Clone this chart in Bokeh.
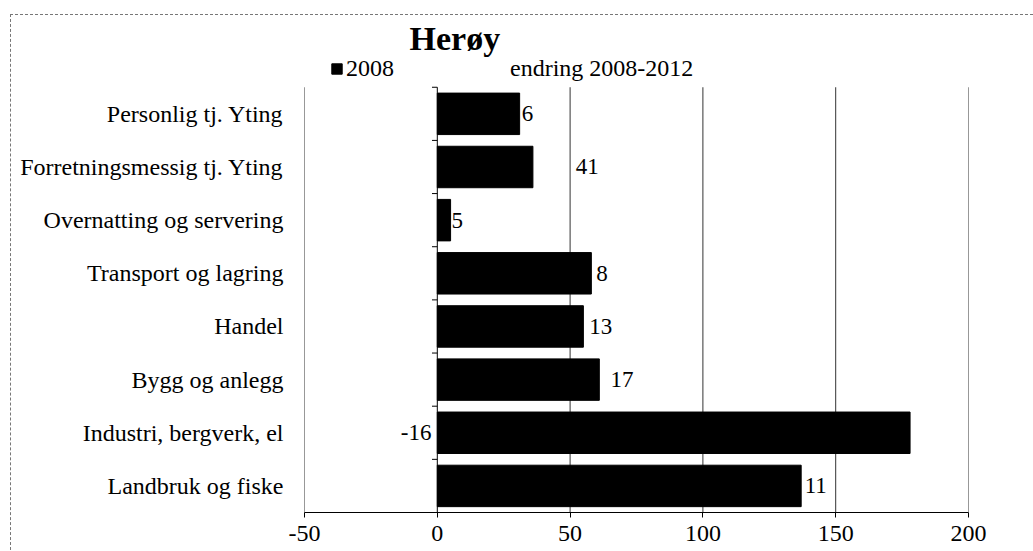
from bokeh.plotting import figure
from bokeh.models import (Range1d, FixedTicker, Label, Legend, LegendItem,
                          ColumnDataSource)
from bokeh.embed import file_html
from bokeh.resources import INLINE
from bokeh.core.properties import value

# ---- data (top to bottom as shown) ----
categories = ["Personlig tj. Yting", "Forretningsmessig tj. Yting",
              "Overnatting og servering", "Transport og lagring", "Handel",
              "Bygg og anlegg", "Industri, bergverk, el", "Landbruk og fiske"]
v2008 = [31, 36, 5, 58, 55, 61, 178, 137]
endring = [6, 41, 5, 8, 13, 17, -16, 11]
x_ticks = [-50, 0, 50, 100, 150, 200]
title_text = "Herøy"
series_names = ["2008", "endring 2008-2012"]

FONT = "Liberation Serif"
W, H = 1023, 536
n = len(categories)
top_pad = 1.35  # empty space above the bars for title and legend

ypos = [n - k - 0.5 for k in range(n)]

p = figure(width=W, height=H, output_backend="svg", toolbar_location=None,
           x_range=Range1d(x_ticks[0], x_ticks[-1]),
           y_range=Range1d(0, n + top_pad),
           min_border_left=293, min_border_right=66, min_border_top=0,
           min_border_bottom=39)
p.margin = (14, 0, 0, 10)
p.styles = {"border-top": "1px dashed #777777", "border-left": "1px dashed #777777",
            "border-right": "0px none", "border-bottom": "0px none",
            "box-sizing": "border-box"}
p.outline_line_color = None
p.background_fill_color = "white"
p.border_fill_color = "white"
p.xgrid.grid_line_color = None
p.ygrid.grid_line_color = None

# vertical grid lines and the -50 edge, only over the bar area
grid_x = [t for t in x_ticks if t != 0]
p.segment(x0=grid_x, x1=grid_x, y0=[0] * len(grid_x), y1=[n] * len(grid_x),
          line_color="#333333", line_width=1)

# bars for 2008
src = ColumnDataSource(dict(y=ypos, v=v2008))
r2008 = p.hbar(y="y", left=0, right="v", height=0.78, source=src,
               fill_color="black", line_color="black")

# invisible stacked segments for the change, labelled at their centres
e_left = [v if e >= 0 else e for v, e in zip(v2008, endring)]
e_right = [v + e if e >= 0 else 0 for v, e in zip(v2008, endring)]
e_mid = [(a + b) / 2 for a, b in zip(e_left, e_right)]
src_e = ColumnDataSource(dict(y=ypos, l=e_left, r=e_right, m=e_mid,
                              t=[str(e) for e in endring]))
rend = p.hbar(y="y", left="l", right="r", height=0.78, source=src_e,
              fill_color="white", fill_alpha=0, line_color=None)
p.text(x="m", y="y", text="t", source=src_e, text_align="center",
       text_baseline="middle", text_font=value(FONT), text_font_size="23px",
       text_color="black")

# category axis at zero with ticks at the band boundaries
p.segment(x0=[0], x1=[0], y0=[0], y1=[n], line_color="black", line_width=1)
bounds = list(range(n + 1))
p.segment(x0=[0] * len(bounds), x1=[-2] * len(bounds), y0=bounds, y1=bounds,
          line_color="black", line_width=1)

# x axis
p.xaxis.ticker = FixedTicker(ticks=x_ticks)
p.xaxis.major_label_overrides = {t: str(t) for t in x_ticks}
p.xaxis.axis_line_color = "black"
p.xaxis.major_tick_line_color = "black"
p.xaxis.major_tick_out = 5
p.xaxis.major_tick_in = 0
p.xaxis.minor_tick_line_color = None
p.xaxis.major_label_text_font = FONT
p.xaxis.major_label_text_font_size = "24px"
p.xaxis.major_label_text_color = "black"
p.xaxis.major_label_standoff = 8

# y axis (category names)
p.yaxis.ticker = FixedTicker(ticks=ypos)
p.yaxis.major_label_overrides = {y: c for y, c in zip(ypos, categories)}
p.yaxis.axis_line_color = None
p.yaxis.major_tick_line_color = None
p.yaxis.major_tick_out = 0
p.yaxis.major_tick_in = 0
p.yaxis.minor_tick_line_color = None
p.yaxis.major_label_text_font = FONT
p.yaxis.major_label_text_font_size = "24px"
p.yaxis.major_label_text_color = "black"
p.yaxis.major_label_standoff = 21

# title
p.add_layout(Label(x=105, y=474, x_units="screen", y_units="screen",
                   text=title_text, text_font=FONT, text_font_size="34px",
                   text_font_style="bold", text_color="black",
                   text_baseline="alphabetic"))

# legend
legend = Legend(items=[LegendItem(label=series_names[0], renderers=[r2008]),
                       LegendItem(label=series_names[1], renderers=[rend])],
                orientation="horizontal", location=(26, 430),
                glyph_width=13, glyph_height=13, label_standoff=3, spacing=100,
                padding=0, margin=0, border_line_color=None,
                background_fill_alpha=0, label_text_font=FONT,
                label_text_font_size="24px", label_text_color="black")
p.add_layout(legend)

open("out.html", "w").write(file_html(p, INLINE))
